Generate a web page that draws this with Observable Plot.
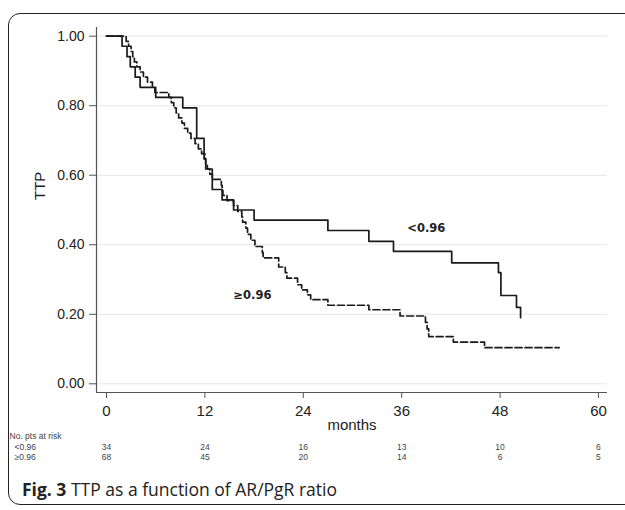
<!DOCTYPE html>
<html>
<head>
<meta charset="utf-8">
<script src="https://cdn.jsdelivr.net/npm/d3@7"></script>
<script src="https://cdn.jsdelivr.net/npm/@observablehq/plot@0.6"></script>
<style>
  html, body { margin: 0; padding: 0; background: #fff; }
  #wrap { position: relative; width: 625px; height: 510px; overflow: hidden; }
  #frame { position: absolute; left: 8px; top: 13px; width: 660px; height: 492px;
           border: 1.6px solid #222; border-radius: 12px; box-sizing: border-box; }
  #chart { position: absolute; left: 0; top: 0; }
  #caption { position: absolute; left: 22px; top: 477px; font-family: "Open Sans", sans-serif;
             font-size: 17.5px; color: #222; white-space: nowrap; }
  #caption b { font-weight: 700; }
</style>
</head>
<body>
<div id="wrap">
  <div id="frame"></div>
  <div id="chart"></div>
  <div id="caption"><b>Fig. 3</b> TTP as a function of AR/PgR ratio</div>
</div>
<script>
// ---- data ----
const lowMonths = [0, 1.9, 2.5, 2.9, 3.5, 4.1, 6.0, 9.3, 11.0, 11.9, 12.1, 12.9, 14.1, 15.5, 18.0, 27.0, 32.0, 35.0, 42.1, 47.8, 48.1, 50.0, 50.5];
const lowSurv   = [1.000, .971, .941, .912, .882, .853, .824, .794, .706, .647, .618, .559, .529, .500, .471, .441, .410, .381, .348, .320, .254, .220, .190];

const highMonths = [0, 2.4, 2.7, 3.0, 3.2, 3.4, 3.7, 4.1, 4.5, 5.0, 5.6, 5.9, 7.6, 7.9, 8.2, 8.5, 8.8, 9.2, 9.5, 9.9,
  10.3, 10.8, 11.2, 11.6, 12.0, 12.1, 12.3, 12.6, 12.9, 14.0, 14.1, 14.2, 14.7, 15.5, 16.0, 16.5, 16.6, 17.0, 17.2, 17.6,
  18.1, 19.0, 19.1, 21.0, 21.8, 22.0, 23.3, 23.8, 24.5, 24.9, 27.0, 32.0, 35.8, 38.9, 39.1, 39.3, 42.3, 46.1, 55.2];
const highSurv = [1, .985, .971, .956, .941, .926, .912, .897, .882, .868, .853, .838, .824, .809, .794, .779, .765, .750, .735, .721,
  .706, .691, .676, .662, .647, .632, .618, .603, .588, .571, .556, .542, .527, .513, .496, .480, .465, .448, .430, .413,
  .395, .378, .362, .336, .320, .304, .285, .270, .256, .242, .226, .213, .195, .177, .158, .136, .120, .104, .104];

const groupLabels = ["<0.96", "\u22650.96"];
const labelMonths = [39.0, 17.8];
const labelSurv   = [0.447, 0.254];

const xTicks = [0, 12, 24, 36, 48, 60];
const yTicks = [0, 0.2, 0.4, 0.6, 0.8, 1.0];

const riskMonths = [0, 12, 24, 36, 48, 60];
const riskLow  = [34, 24, 16, 13, 10, 6];
const riskHigh = [68, 45, 20, 14, 6, 5];

const xDomain = [-1.22, 61.1];
const yDomain = [-0.025, 1.025];

// ---- tables built from arrays ----
const low  = lowMonths.map((m, i) => ({month: m, surv: lowSurv[i]}));
const high = highMonths.map((m, i) => ({month: m, surv: highSurv[i]}));
const labels = groupLabels.map((g, i) => ({g, month: labelMonths[i], surv: labelSurv[i]}));
const rLow  = riskMonths.map((m, i) => ({month: m, n: riskLow[i]}));
const rHigh = riskMonths.map((m, i) => ({month: m, n: riskHigh[i]}));

const tickFont = "Liberation Sans, Arial, sans-serif";

const chart = Plot.plot({
  width: 625,
  height: 470,
  marginLeft: 96,
  marginRight: 18,
  marginTop: 27,
  marginBottom: 78,
  style: {fontFamily: tickFont, background: "transparent"},
  x: {domain: xDomain},
  y: {domain: yDomain},
  marks: [
    Plot.gridY(yTicks, {stroke: "#e6e6e6", strokeOpacity: 1, strokeWidth: 1}),
    Plot.ruleX([xDomain[0]], {stroke: "#555", strokeWidth: 1.2}),
    Plot.ruleY([yDomain[0]], {stroke: "#555", strokeWidth: 1.2}),
    Plot.axisY(yTicks, {tickFormat: d3.format(".2f"), tickSize: 7, tickPadding: 5, fontSize: 14, fill: "#222", stroke: "#555", label: null}),
    Plot.axisX(xTicks, {tickSize: 6, tickPadding: 7, fontSize: 15, fill: "#222", stroke: "#555", label: null}),
    Plot.text(["TTP"], {frameAnchor: "left", rotate: -90, dx: -56, dy: -10, fontSize: 15, fill: "#222"}),
    Plot.text(["months"], {frameAnchor: "bottom", dy: 37, fontSize: 15, fill: "#222"}),
    Plot.line(high, {x: "month", y: "surv", curve: "step-after", stroke: "#1a1a1a", strokeWidth: 1.7, strokeDasharray: "7,3"}),
    Plot.line(low, {x: "month", y: "surv", curve: "step-after", stroke: "#1a1a1a", strokeWidth: 1.7}),
    Plot.text(labels, {x: "month", y: "surv", text: "g", fontWeight: "bold", fontSize: 11.5, fontFamily: "DejaVu Sans, sans-serif", fill: "#222"}),
    Plot.text(["No. pts at risk"], {frameAnchor: "bottom-left", dx: -87, dy: 46, textAnchor: "start", fontSize: 8.5, fill: "#444"}),
    Plot.text([groupLabels[0]], {frameAnchor: "bottom-left", dx: -82, dy: 57, textAnchor: "start", fontSize: 8.5, fill: "#444"}),
    Plot.text([groupLabels[1]], {frameAnchor: "bottom-left", dx: -82, dy: 67, textAnchor: "start", fontSize: 8.5, fill: "#444"}),
    Plot.text(rLow,  {x: "month", frameAnchor: "bottom", text: "n", dy: 57, fontSize: 8.5, fill: "#444"}),
    Plot.text(rHigh, {x: "month", frameAnchor: "bottom", text: "n", dy: 67, fontSize: 8.5, fill: "#444"})
  ]
});
document.getElementById("chart").appendChild(chart);
</script>
</body>
</html>
